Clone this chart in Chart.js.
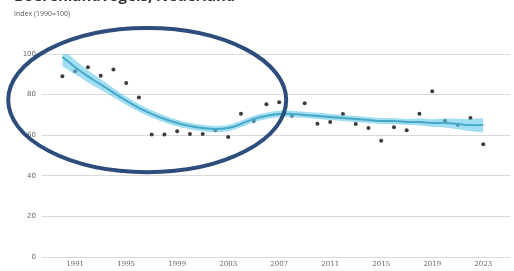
<!DOCTYPE html>
<html>
<head>
<meta charset="utf-8">
<script src="https://cdn.jsdelivr.net/npm/chart.js@4/dist/chart.umd.min.js"></script>
<style>
  html, body { margin: 0; padding: 0; background: #fff; overflow: hidden; }
  #wrap { position: relative; width: 514px; height: 271px; }
  #title { position: absolute; left: 14px; top: -15px; font: bold 15px "Open Sans", sans-serif; color: #333; white-space: nowrap; }
  #subtitle { position: absolute; left: 14px; top: 9px; font: 7px "Open Sans", sans-serif; color: #555; }
  canvas { position: absolute; left: 0; top: 0; }
</style>
</head>
<body>
<div id="wrap">
  <canvas id="chart" width="514" height="271"></canvas>
  <div id="title">Boerenlandvogels, Nederland</div>
  <div id="subtitle">Index (1990=100)</div>
</div>
<script>
const years = [1990,1991,1992,1993,1994,1995,1996,1997,1998,1999,2000,2001,2002,2003,2004,2005,2006,2007,2008,2009,2010,2011,2012,2013,2014,2015,2016,2017,2018,2019,2020,2021,2022,2023];
const observed = [89,91.5,93.5,89.3,92.4,85.7,78.6,60.4,60.4,61.9,60.6,60.6,62.4,59.1,70.6,67,75.3,76.2,69.6,75.8,65.7,66.5,70.4,65.5,63.5,57.3,63.9,62.4,70.6,81.6,67,65.2,68.5,55.5];
const trend = [98.5,93.5,89,85,81,77,73.5,70.5,68,66,64.5,63.5,63,63.5,65.5,68,69.5,70.5,70.5,70,69.5,69,68.5,68,67.5,67,67,66.5,66.5,66,66,65.5,65,65];
const upper = [103,97,92,87.6,83.3,79,75.4,72.3,69.7,67.6,66.1,65.1,64.6,65.1,67.1,69.6,71.1,72,72,71.5,71,70.5,70,69.5,69,68.5,68.5,68,68.2,67.9,68.2,68.1,68,68.5];
const lower = [94,90,86,82.4,78.7,75,71.6,68.7,66.3,64.4,62.9,61.9,61.4,61.9,63.9,66.4,67.9,69,69,68.5,68,67.5,67,66.5,66,65.5,65.5,65,64.8,64.1,63.8,62.9,62,61.5];
const xTicks = [1991,1995,1999,2003,2007,2011,2015,2019,2023];
const yTicks = [0,20,40,60,80,100];

const pts = arr => years.map((y, i) => ({ x: y, y: arr[i] }));

// annotation ellipse, placed in data units
const ellipsePlugin = {
  id: 'ellipse',
  afterDatasetsDraw(chart) {
    const { ctx, scales: { x, y } } = chart;
    const cx = x.getPixelForValue(1996.65), cy = y.getPixelForValue(77.3);
    const rx = Math.abs(x.getPixelForValue(1996.65 + 10.9) - cx);
    const ry = Math.abs(y.getPixelForValue(77.3 + 35.5) - cy);
    ctx.save();
    ctx.beginPath();
    ctx.ellipse(cx, cy, rx, ry, 0, 0, Math.PI * 2);
    ctx.strokeStyle = '#2d4d7c';
    ctx.lineWidth = 4;
    ctx.stroke();
    ctx.restore();
  }
};

new Chart(document.getElementById('chart'), {
  type: 'line',
  data: {
    datasets: [
      { data: pts(upper), borderWidth: 0, pointRadius: 0, fill: false, tension: 0.4, clip: false },
      { data: pts(lower), borderWidth: 0, pointRadius: 0, fill: '-1', backgroundColor: 'rgba(100,200,232,0.6)', tension: 0.4, clip: false },
      { data: pts(trend), borderColor: '#1c7896', borderWidth: 2, pointRadius: 0, fill: false, tension: 0.4, clip: false },
      { data: pts(observed), showLine: false, pointRadius: 2, pointBackgroundColor: '#3d3d3d', pointBorderWidth: 0, clip: false }
    ]
  },
  options: {
    responsive: false,
    animation: false,
    layout: { padding: { top: 54, right: 4, left: 0, bottom: 0 } },
    plugins: { legend: { display: false }, tooltip: { enabled: false } },
    scales: {
      x: {
        type: 'linear', min: 1988.4, max: 2025.1,
        afterBuildTicks: s => { s.ticks = xTicks.map(v => ({ value: v })); },
        afterFit: s => { s.height = 14; },
        grid: { display: false, drawTicks: false },
        border: { display: false },
        ticks: { color: '#666', font: { size: 7, family: 'DejaVu Serif' }, padding: 3, maxRotation: 0, callback: v => String(v) }
      },
      y: {
        min: 0, max: 100,
        afterBuildTicks: s => { s.ticks = yTicks.map(v => ({ value: v })); },
        afterFit: s => { s.width = 42; },
        grid: { color: '#d9d9d9', lineWidth: 1, drawTicks: false },
        border: { display: false },
        ticks: { color: '#666', font: { size: 7, family: 'DejaVu Sans' }, padding: 6 }
      }
    }
  },
  plugins: [ellipsePlugin]
});
</script>
</body>
</html>
